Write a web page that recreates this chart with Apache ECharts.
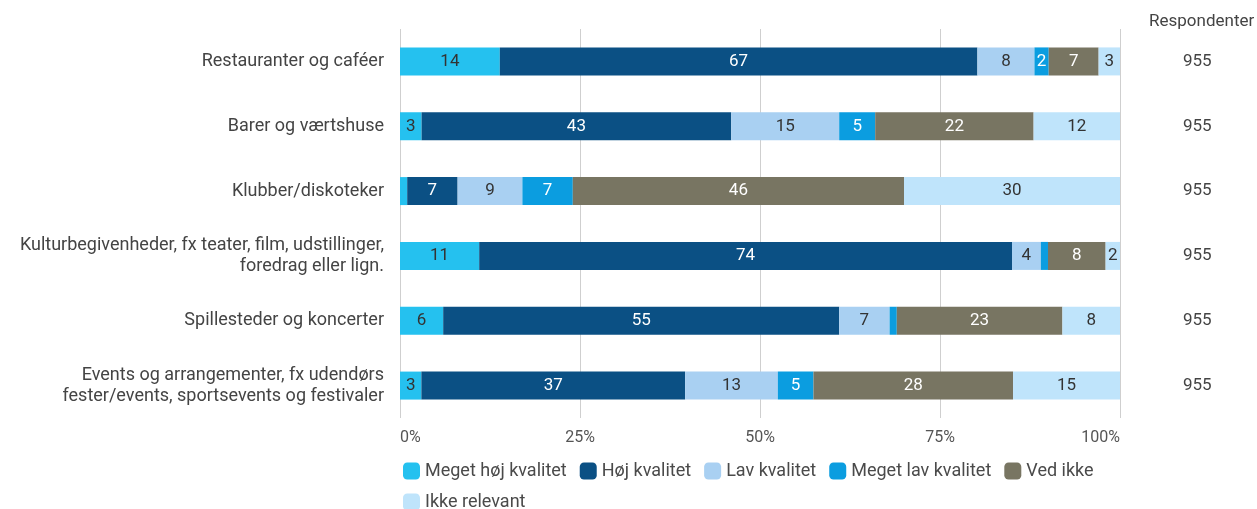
<!DOCTYPE html>
<html>
<head>
<meta charset="utf-8">
<script src="https://cdn.jsdelivr.net/npm/echarts@6/dist/echarts.min.js"></script>
<style>
  html, body { margin: 0; padding: 0; background: #fff; }
  #chart { width: 1257px; height: 509px; }
</style>
</head>
<body>
<div id="chart"></div>
<script>
// rows, top to bottom
var categories = [
  'Restauranter og caféer',
  'Barer og værtshuse',
  'Klubber/diskoteker',
  'Kulturbegivenheder, fx teater, film, udstillinger,\nforedrag eller lign.',
  'Spillesteder og koncerter',
  'Events og arrangementer, fx udendørs\nfester/events, sportsevents og festivaler'
]
var levels = ['Meget høj kvalitet', 'Høj kvalitet', 'Lav kvalitet', 'Meget lav kvalitet', 'Ved ikke', 'Ikke relevant']

var megetHoj = [14, 3, 1, 11, 6, 3]
var hoj = [67, 43, 7, 74, 55, 37]
var lav = [8, 15, 9, 4, 7, 13]
var megetLav = [2, 5, 7, 1, 1, 5]
var vedIkke = [7, 22, 46, 8, 23, 28]
var ikkeRelevant = [3, 12, 30, 2, 8, 15]
var respondenter = [955, 955, 955, 955, 955, 955]
var xTicks = [0, 25, 50, 75, 100]

var colors = ['#25c1ef', '#0b5084', '#a9d0f2', '#0b9de0', '#787562', '#bfe4fb']
var labelColors = ['#333', '#fff', '#333', '#fff', '#fff', '#333']

var allSeries = [megetHoj, hoj, lav, megetLav, vedIkke, ikkeRelevant]

// each row drawn as share of its own total (some rows add up to 101)
var rowSums = categories.map(function (c, i) {
  return allSeries.reduce(function (s, arr) { return s + arr[i] }, 0)
})

var chart = echarts.init(document.getElementById('chart'))

var series = allSeries.map(function (arr, k) {
  return {
    name: levels[k],
    type: 'bar',
    stack: 'total',
    barWidth: 28,
    itemStyle: { color: colors[k] },
    label: {
      show: true,
      position: 'inside',
      color: labelColors[k],
      fontSize: 17,
      fontFamily: 'Roboto',
      formatter: function (p) {
        return p.data.raw > 1 ? String(p.data.raw) : ''
      }
    },
    data: arr.map(function (v, i) {
      return { value: v / rowSums[i] * 100, raw: v }
    })
  }
})

chart.setOption({
  animation: false,
  textStyle: { fontFamily: 'Roboto' },
  title: {
    text: 'Respondenter',
    left: 1144,
    top: 8,
    textStyle: { fontSize: 17, fontWeight: 'normal', color: '#444', fontFamily: 'Roboto' }
  },
  legend: {
    data: levels,
    left: 398,
    top: 457,
    width: 735,
    itemWidth: 17,
    itemHeight: 17,
    itemGap: 13,
    icon: 'roundRect',
    textStyle: { fontSize: 18, color: '#4a4a4a', fontFamily: 'Roboto' }
  },
  grid: {
    left: 400,
    right: 137,
    top: 29,
    bottom: 91
  },
  xAxis: {
    type: 'value',
    min: 0,
    max: 100,
    interval: 25,
    axisLine: { show: false },
    axisTick: { show: false },
    splitLine: { lineStyle: { color: '#cfcfcf', width: 1 } },
    axisLabel: {
      color: '#555',
      fontSize: 16,
      margin: 12,
      alignMinLabel: 'left',
      alignMaxLabel: 'right',
      formatter: function (v) {
        return xTicks.indexOf(v) >= 0 ? v + '%' : ''
      }
    }
  },
  yAxis: [
    {
      type: 'category',
      inverse: true,
      data: categories,
      axisLine: { show: false },
      axisTick: { show: false },
      axisLabel: {
        color: '#444',
        fontSize: 18,
        margin: 16,
        lineHeight: 21,
        align: 'right'
      }
    },
    {
      type: 'category',
      inverse: true,
      position: 'right',
      data: respondenter.map(String),
      axisLine: { show: false },
      axisTick: { show: false },
      axisLabel: {
        color: '#444',
        fontSize: 17,
        margin: 63,
        align: 'left'
      }
    }
  ],
  series: series
})
</script>
</body>
</html>
